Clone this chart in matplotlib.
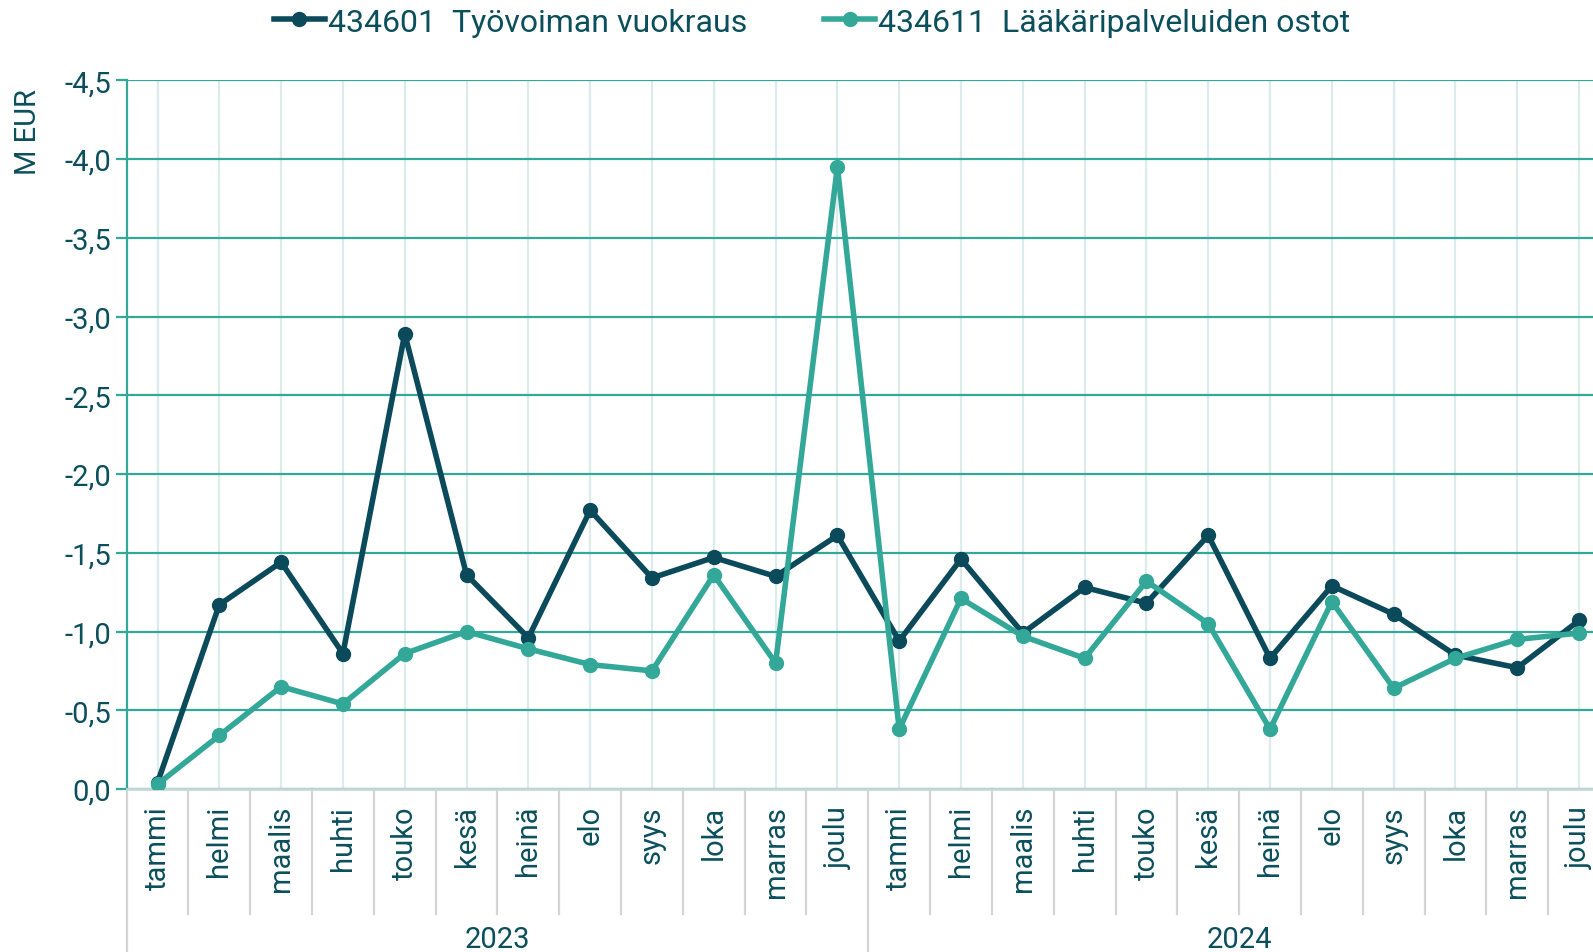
import numpy as np
import matplotlib.pyplot as plt
import matplotlib.transforms as mtransforms

plt.rcParams['font.family'] = ['Roboto', 'DejaVu Sans']

# data (M EUR)
months = ['tammi', 'helmi', 'maalis', 'huhti', 'touko', 'kesä',
          'heinä', 'elo', 'syys', 'loka', 'marras', 'joulu']
years = ['2023', '2024']
tyovoima = [-0.04, -1.17, -1.44, -0.86, -2.89, -1.36, -0.96, -1.77, -1.34, -1.47, -1.35, -1.61,
            -0.94, -1.46, -0.99, -1.28, -1.18, -1.61, -0.83, -1.29, -1.11, -0.85, -0.77, -1.07]
laakari = [-0.03, -0.34, -0.65, -0.54, -0.86, -1.00, -0.89, -0.79, -0.75, -1.36, -0.80, -3.95,
           -0.38, -1.21, -0.97, -0.83, -1.32, -1.05, -0.38, -1.19, -0.64, -0.83, -0.95, -0.99]
series_names = ['434601  Työvoiman vuokraus', '434611  Lääkäripalveluiden ostot']

DARK = '#0b4a5a'
TEAL = '#34a898'
TEXT = '#0b4f5c'

W, H = 1593, 953
fig = plt.figure(figsize=(W / 100, H / 100), dpi=100)
left, right, top, bottom = 126.6, 1610, 81.3, 790
ax = fig.add_axes([left / W, 1 - bottom / H, (right - left) / W, (bottom - top) / H])

n = len(tyovoima)
x = np.arange(n)

# vertical light grid through the categories
for xi in x:
    ax.axvline(xi, color='#dcecec', linewidth=1.6, zorder=0)

ax.plot(x, tyovoima, '-o', color=DARK, linewidth=4, markersize=10, label=series_names[0], zorder=3)
ax.plot(x, laakari, '-o', color=TEAL, linewidth=4, markersize=10, label=series_names[1], zorder=4)

ax.set_xlim(-0.5, n - 0.5)
ax.set_ylim(0, -4.5)
yt = np.arange(0, -4.51, -0.5)
ax.set_yticks(yt)
ax.set_yticklabels([f'{v:.1f}'.replace('.', ',').replace('-0,0', '0,0') for v in yt])
ax.grid(axis='y', color=TEAL, linewidth=1.6, zorder=1)
ax.tick_params(axis='y', colors=TEAL, length=8, width=1.6, labelcolor=TEXT, labelsize=21, pad=3)
ax.set_xticks([])

for s in ['top', 'right']:
    ax.spines[s].set_visible(False)
ax.spines['left'].set_color(TEAL)
ax.spines['left'].set_linewidth(1.6)
ax.spines['bottom'].set_color('#c8d8d8')
ax.spines['bottom'].set_linewidth(2)

# two-level category axis
h_ax = bottom - top
tr = mtransforms.blended_transform_factory(ax.transData, ax.transAxes)
for i in range(n):
    ax.text(i, (bottom - 806) / h_ax, months[i % 12], transform=tr, rotation=90,
            ha='center', va='top', fontsize=21, color=TEXT)
for b in np.arange(-0.5, n, 1.0):
    if b % 12 == 11.5 or b == -0.5:
        ax.plot([b, b], [0, (bottom - 955) / h_ax], transform=tr, color='#d4d4d4',
                linewidth=1.6, clip_on=False, zorder=0)
    else:
        ax.plot([b, b], [0, (bottom - 915) / h_ax], transform=tr, color='#d4d4d4',
                linewidth=1.6, clip_on=False, zorder=0)
for k, yr in enumerate(years):
    ax.text(k * 12 + 5.5, (bottom - 940) / h_ax, yr, transform=tr,
            ha='center', va='center', fontsize=21, color=TEXT)

fig.text(28 / W, 1 - 132 / H, 'M EUR', rotation=90, ha='center', va='center',
         fontsize=21, color=TEXT)

leg = fig.legend(loc='center', bbox_to_anchor=(812 / W, 1 - 23 / H), ncol=2, frameon=False,
                 fontsize=23, handlelength=1.6, handletextpad=0.1, columnspacing=2.4,
                 borderaxespad=0)
for t in leg.get_texts():
    t.set_color(TEXT)

fig.savefig('out.png', dpi=100)
